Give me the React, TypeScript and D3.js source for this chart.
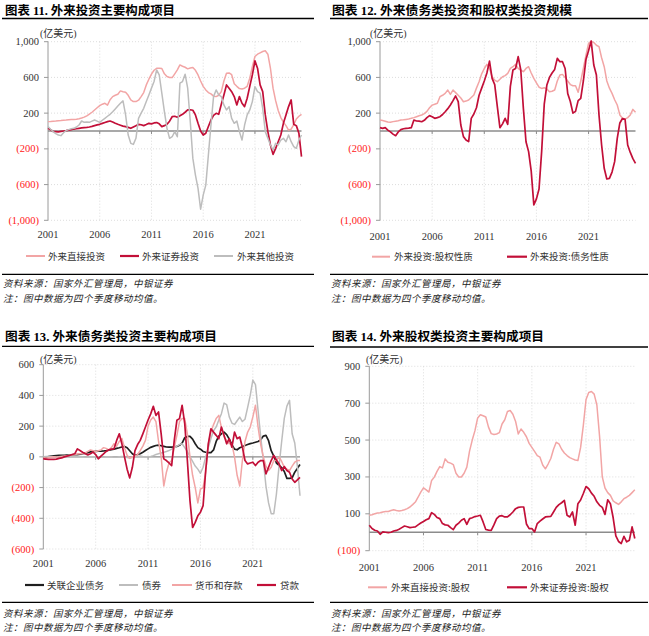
import React from 'react';
import * as d3 from 'd3';

// quarterly, 4-quarter moving averages, 2001Q1 onward (亿美元)
const YEAR_LABELS = ['2001', '2006', '2011', '2016', '2021'];
const YEAR_INDEX = [0, 20, 40, 60, 80];

const TICKS_11 = [1000, 600, 200, -200, -600, -1000];
const TICKS_12 = [1000, 600, 200, -200, -600, -1000];
const TICKS_13 = [600, 400, 200, 0, -200, -400, -600];
const TICKS_14 = [900, 700, 500, 300, 100, -100];

// 图表 11
const fdi11 = [
  105, 107, 110, 112, 115, 117, 120, 122, 125, 128,
  130, 132, 138, 145, 155, 170, 190, 210, 235, 260,
  284, 300, 310, 290, 350, 385, 400, 411, 449, 440,
  434, 400, 348, 330, 329, 345, 385, 430, 516, 580,
  636, 680, 703, 703, 700, 640, 610, 600, 598, 640,
  684, 740, 725, 714, 696, 705, 711, 680, 628, 560,
  500, 460, 430, 415, 390, 385, 400, 441, 560, 647,
  650, 630, 530, 500, 475, 470, 479, 500, 591, 720,
  834, 860, 875, 890, 898, 860, 700, 480, 340, 230,
  150, 100, 60, 11, 20, 70, 135, 165, 187,
];
const portfolio11 = [
  30, 15, -5, -7, -10, -5, 0, 4, 10, 15,
  22, 25, 30, 35, 38, 41, 45, 52, 60, 68,
  75, 85, 95, 105, 112, 100, 86, 75, 65, 55,
  49, 40, 30, 45, 60, 75, 70, 60, 72, 86,
  80, 90, 94, 80, 49, 60, 75, 110, 160, 165,
  153, 170, 187, 210, 236, 238, 232, 180, 86, 0,
  -45, -26, 50, 123, 175, 198, 187, 300, 404, 516,
  479, 440, 385, 292, 385, 310, 273, 367, 500, 628,
  785, 703, 516, 441, 180, -7, -157, -262, -194, -120,
  -45, 86, 180, 273, 348, 75, 60, -26, -288,
];
const other11 = [
  49, 20, -7, -30, -45, -52, -20, 4, 15, 25,
  30, 45, 67, 112, 97, 100, 97, 110, 123, 110,
  97, 120, 142, 165, 187, 215, 247, 280, 310, 337,
  180, -45, -138, -150, -82, 142, 200, 254, 330, 404,
  480, 554, 684, 628, 423, 217, 30, -82, -64, -7,
  -64, 535, 554, 636, 479, 105, -307, -494, -643, -875,
  -718, -606, -269, 67, 385, 460, 404, 385, 292, 236,
  273, 142, 86, 112, -7, -101, 67, 180, 236, 329,
  497, 441, 423, 254, -7, -82, -157, -213, -138, -157,
  -101, -82, -120, -45, -120, -176, -194, -101, -45,
];

// 图表 12
const equity12 = [
  123, 118, 110, 100, 97, 105, 110, 115, 123, 125,
  130, 135, 142, 150, 160, 170, 179, 195, 220, 260,
  290, 300, 310, 384, 400, 421, 459, 410, 459, 430,
  400, 370, 328, 335, 347, 375, 403, 480, 552, 640,
  700, 746, 700, 608, 570, 552, 580, 608, 620, 645,
  701, 720, 746, 701, 680, 664, 700, 720, 650, 589,
  540, 490, 477, 485, 470, 440, 445, 459, 560, 627,
  634, 600, 560, 520, 507, 507, 433, 560, 700, 850,
  980, 1007, 990, 960, 944, 820, 720, 560, 480, 421,
  350, 291, 180, 142, 134, 150, 180, 242, 209,
];
const debt12 = [
  37, 30, 37, 10, -10, -35, -52, -10, 15, 25,
  30, 32, 37, 123, 112, 110, 104, 120, 150, 172,
  160, 142, 150, 160, 185, 216, 250, 291, 340, 392,
  328, 67, -63, -100, -119, 142, 190, 260, 400, 480,
  560, 650, 783, 589, 520, 272, 37, 80, 142, 75,
  500, 683, 700, 832, 683, 250, -120, -231, -450, -828,
  -760, -650, -231, 300, 515, 600, 650, 690, 813, 776,
  776, 700, 420, 330, 200, 220, 340, 366, 560, 800,
  900, 1007, 739, 627, 179, -157, -418, -537, -530, -460,
  -343, -82, 90, 140, 130, -157, -240, -310, -362,
];

// 图表 13
const intercompany13 = [
  -7, -3, 2, 5, 7, 8, 9, 9, 10, 11,
  12, 13, 14, 15, 18, 20, 24, 28, 32, 35,
  36, 37, 37, 38, 40, 43, 46, 50, 55, 59,
  64, 68, 59, 40, 20, 9, 15, 20, 30, 41,
  52, 62, 68, 74, 76, 72, 68, 64, 63, 63,
  64, 68, 75, 90, 125, 133, 133, 115, 85, 60,
  50, 35, 30, 28, 28, 45, 100, 135, 150, 161,
  145, 115, 80, 50, 46, 59, 66, 74, 80, 86,
  90, 95, 100, 111, 135, 140, 105, 40, 5, -40,
  -55, -70, -95, -140, -140, -137, -100, -75, -50,
];
const bonds13 = [
  0, 2, 3, 2, 0, -2, 0, 2, 3, 2,
  0, 1, 2, 3, 2, 0, -2, -1, 0, 1,
  0, -2, -3, -2, 0, 1, 0, -3, -2, 0,
  2, 0, -5, -8, -5, 0, 3, 5, 2, 0,
  0, 3, 8, 15, 20, 25, 30, 35, 41, 50,
  59, 70, 80, 85, 60, 35, 0, -30, -60, -80,
  -107, -68, 0, 60, 120, 170, 195, 240, 281, 350,
  340, 260, 220, 211, 235, 259, 230, 245, 320, 400,
  500, 470, 300, 130, -24, -190, -300, -370, -370, -242,
  -60, 100, 250, 330, 368, 150, 90, -60, -253,
];
const deposits13 = [
  -5, -8, -5, -3, 0, -2, 0, 3, 5, 8,
  10, 12, 15, 18, 20, 22, 25, 35, 45, 40,
  35, 40, 45, 60, 55, 45, 60, 85, 70, 100,
  120, 60, 10, -10, 0, 5, 15, 40, 70, 107,
  200, 240, 259, 230, 100, 0, -190, -100, -40, -24,
  60, 140, 230, 249, 249, 150, 0, -120, -200, -300,
  -210, -200, -100, 85, 161, 210, 250, 270, 190, 130,
  107, 85, 85, 0, -120, -190, -24, 100, 160, 194,
  260, 336, 194, 80, 0, -60, -89, -68, -24, -24,
  0, -30, -68, -80, -89, -60, -35, -24, -24,
];
const loans13 = [
  -13, -15, -17, -17, -17, -15, -10, -7, 0, 5,
  9, 15, 20, 52, 41, 30, 20, 13, 20, 31,
  15, -13, 5, 20, 35, 46, 50, 52, 107, 150,
  85, 0, -80, -137, -68, 41, 80, 107, 150, 194,
  240, 280, 329, 270, 292, 150, -13, -24, -40, -57,
  107, 238, 249, 336, 216, -24, -286, -460, -427, -384,
  -360, -318, -89, 85, 183, 161, 140, 118, 194, 140,
  85, 118, 63, 161, 118, 129, 63, -24, -46, -40,
  -35, -57, -35, -24, -24, -111, -68, -24, 9, -20,
  -46, -89, -63, -89, -100, -144, -166, -150, -133,
];

// 图表 14
const fdiEquity14 = [
  92, 95, 100, 104, 106, 110, 112, 113, 118, 122,
  118, 115, 118, 122, 128, 137, 150, 164, 190, 218,
  241, 230, 218, 281, 299, 330, 356, 349, 398, 380,
  375, 367, 320, 300, 300, 320, 353, 440, 500, 551,
  620, 637, 632, 625, 570, 535, 530, 533, 540, 587,
  610, 655, 660, 640, 601, 533, 560, 542, 518, 482,
  460, 439, 416, 407, 365, 344, 370, 400, 450, 488,
  479, 450, 430, 416, 405, 398, 392, 389, 460, 580,
  720, 758, 763, 749, 690, 520, 300, 240, 215, 200,
  170, 160, 151, 165, 182, 190, 200, 215, 230,
];
const portfolioEquity14 = [
  38, 20, 11, 7, -11, 2, 0, -2, 0, 7,
  10, 16, 25, 34, 30, 25, 27, 29, 40, 50,
  58, 68, 74, 106, 97, 80, 74, 47, 40, 38,
  25, 14, 38, 50, 65, 74, 43, 74, 79, 85,
  88, 92, 56, 15, 12, 10, 40, 74, 88, 90,
  83, 83, 95, 110, 128, 135, 137, 137, 45, 20,
  20, 2, 47, 60, 72, 83, 85, 86, 110, 135,
  150, 160, 173, 92, 83, 110, 38, 155, 175, 210,
  248, 236, 212, 195, 165, 146, 135, 97, 176, 155,
  80, -20, -50, -61, -22, -52, -43, 29, -34,
];

const PINK = '#F2A5A5';
const CRIMSON = '#C20F38';
const GREY = '#BDBDBD';
const BLACK = '#1f1f1f';

const SERIF = "'Liberation Serif', 'Times New Roman', 'Noto Sans CJK SC', serif";
const CJK = "'Noto Sans CJK SC', 'Liberation Serif', sans-serif";

const SOURCE = '资料来源：国家外汇管理局，中银证券';
const NOTE = '注：图中数据为四个季度移动均值。';

interface Series { name: string; values: number[]; color: string; width: number; }
interface LegendSlot { x0: number; x1: number; tx: number; }

interface PanelConfig {
  title: string;
  titleX: number;
  titleY: number;
  titleLen: number;
  ruleX: [number, number];
  ruleTop: number;
  ruleBottom: number;
  x0: number;
  x1: number;
  yTop: number;
  yBottom: number;
  domain: [number, number];
  ticks: number[];
  yearY: number;
  unitX: number;
  unitY: number;
  legendY: number;
  legend: LegendSlot[];
  series: Series[];
  sourceX: number;
  sourceY: number;
  noteY: number;
}

const fmt = (v: number) => (v < 0 ? `(${d3.format(',')(-v)})` : d3.format(',')(v));

function Panel({ c }: { c: PanelConfig }) {
  const n = c.series[0].values.length;
  const x = d3.scaleLinear().domain([0, n - 1]).range([c.x0, c.x1]);
  const y = d3.scaleLinear().domain(c.domain).range([c.yBottom, c.yTop]);
  const line = d3.line<number>().x((_, i) => x(i)).y(d => y(d));
  const y0 = y(0);

  return (
    <g>
      {/* title + rule */}
      <text x={c.titleX} y={c.titleY} fontFamily={SERIF} fontWeight="bold" fontSize={12.5}
        fill="#000" textLength={c.titleLen} lengthAdjust="spacingAndGlyphs">{c.title}</text>
      <line x1={c.ruleX[0]} x2={c.ruleX[1]} y1={c.ruleTop} y2={c.ruleTop} stroke="#000" strokeWidth={1.3} />

      {/* unit */}
      <text x={c.unitX} y={c.unitY} fontFamily={SERIF} fontSize={10} fill="#333">(亿美元)</text>

      {/* grid */}
      <g stroke="#d4d4d4" strokeWidth={0.8} strokeDasharray="1,2">
        {c.ticks.filter(t => t !== 0).map(t => (
          <line key={'h' + t} x1={c.x0} x2={c.x1} y1={y(t)} y2={y(t)} />
        ))}
        {YEAR_INDEX.slice(1).map(i => (
          <line key={'v' + i} x1={x(i)} x2={x(i)} y1={c.yTop} y2={c.yBottom} />
        ))}
      </g>

      {/* y axis */}
      <line x1={c.x0} x2={c.x0} y1={c.yTop} y2={c.yBottom} stroke="#9a9a9a" strokeWidth={1} />
      {c.ticks.map(t => (
        <g key={'t' + t}>
          <line x1={c.x0 - 4} x2={c.x0} y1={y(t)} y2={y(t)} stroke="#9a9a9a" strokeWidth={1} />
          <text x={c.x0 - 9} y={y(t) + 3.5} textAnchor="end" fontFamily={SERIF} fontSize={10.5}
            fill={t < 0 ? '#FF2020' : '#333'}>{fmt(t)}</text>
        </g>
      ))}

      {/* zero axis */}
      <line x1={c.x0} x2={c.x1} y1={y0} y2={y0} stroke="#8c8c8c" strokeWidth={1.3} />
      {YEAR_INDEX.slice(1).map(i => (
        <line key={'xt' + i} x1={x(i)} x2={x(i)} y1={y0} y2={y0 + 3} stroke="#8c8c8c" strokeWidth={1} />
      ))}

      {/* series */}
      {c.series.map(s => (
        <path key={s.name} d={line(s.values) || ''} fill="none" stroke={s.color}
          strokeWidth={s.width} strokeLinejoin="round" />
      ))}

      {/* year labels */}
      {YEAR_INDEX.map((i, k) => (
        <text key={'y' + i} x={x(i)} y={c.yearY} textAnchor="middle" fontFamily={SERIF}
          fontSize={10.5} fill="#333">{YEAR_LABELS[k]}</text>
      ))}

      {/* legend */}
      {c.series.map((s, k) => {
        const l = c.legend[k];
        return (
          <g key={'lg' + s.name}>
            <line x1={l.x0} x2={l.x1} y1={c.legendY} y2={c.legendY} stroke={s.color}
              strokeWidth={s.width + 0.5} />
            <text x={l.tx} y={c.legendY + 3.5} fontFamily={CJK} fontSize={9.5} fill="#333">{s.name}</text>
          </g>
        );
      })}

      {/* footer */}
      <line x1={c.ruleX[0]} x2={c.ruleX[1]} y1={c.ruleBottom} y2={c.ruleBottom} stroke="#000" strokeWidth={1.3} />
      <text x={c.sourceX} y={c.sourceY} fontFamily={CJK} fontSize={9.5} fontStyle="italic" fill="#222"
        letterSpacing={0.5}>{SOURCE}</text>
      <text x={c.sourceX} y={c.noteY} fontFamily={CJK} fontSize={9.5} fontStyle="italic" fill="#222"
        letterSpacing={0.5}>{NOTE}</text>
    </g>
  );
}

const panels: PanelConfig[] = [
  {
    title: '图表 11. 外来投资主要构成项目', titleX: 5, titleY: 14.5, titleLen: 170,
    ruleX: [2, 314], ruleTop: 18.5, ruleBottom: 274.3,
    x0: 48, x1: 301.5, yTop: 41.7, yBottom: 220.3, domain: [-1000, 1000], ticks: TICKS_11,
    yearY: 238, unitX: 40, unitY: 37, legendY: 256,
    legend: [{ x0: 26, x1: 45, tx: 48 }, { x0: 120, x1: 139, tx: 142 }, { x0: 214, x1: 233, tx: 237 }],
    series: [
      { name: '外来直接投资', values: fdi11, color: PINK, width: 1.5 },
      { name: '外来证券投资', values: portfolio11, color: CRIMSON, width: 1.7 },
      { name: '外来其他投资', values: other11, color: GREY, width: 1.5 },
    ],
    sourceX: 3, sourceY: 287, noteY: 302,
  },
  {
    title: '图表 12. 外来债务类投资和股权类投资规模', titleX: 332, titleY: 14.5, titleLen: 240,
    ruleX: [330, 648], ruleTop: 18.5, ruleBottom: 274.3,
    x0: 380, x1: 635.5, yTop: 41.7, yBottom: 220.3, domain: [-1000, 1000], ticks: TICKS_12,
    yearY: 239.5, unitX: 370, unitY: 37, legendY: 256.7,
    legend: [{ x0: 372, x1: 390, tx: 394 }, { x0: 507, x1: 527, tx: 530 }],
    series: [
      { name: '外来投资:股权性质', values: equity12, color: PINK, width: 1.5 },
      { name: '外来投资:债务性质', values: debt12, color: CRIMSON, width: 1.7 },
    ],
    sourceX: 331, sourceY: 287, noteY: 302,
  },
  {
    title: '图表 13. 外来债务类投资主要构成项目', titleX: 5, titleY: 341, titleLen: 212,
    ruleX: [2, 314], ruleTop: 346.3, ruleBottom: 602.3,
    x0: 43.3, x1: 300, yTop: 364.7, yBottom: 549, domain: [-600, 600], ticks: TICKS_13,
    yearY: 566.5, unitX: 40, unitY: 362.5, legendY: 585,
    legend: [{ x0: 25, x1: 44, tx: 47 }, { x0: 119, x1: 138, tx: 142 },
      { x0: 172, x1: 192, tx: 195 }, { x0: 257, x1: 276, tx: 280 }],
    series: [
      { name: '关联企业债务', values: intercompany13, color: BLACK, width: 1.7 },
      { name: '债券', values: bonds13, color: GREY, width: 1.5 },
      { name: '货币和存款', values: deposits13, color: PINK, width: 1.5 },
      { name: '贷款', values: loans13, color: CRIMSON, width: 1.7 },
    ],
    sourceX: 3, sourceY: 616.5, noteY: 630.5,
  },
  {
    title: '图表 14. 外来股权类投资主要构成项目', titleX: 332, titleY: 341, titleLen: 212,
    ruleX: [330, 648], ruleTop: 347, ruleBottom: 602.3,
    x0: 369.3, x1: 634.8, yTop: 366.3, yBottom: 550.7, domain: [-100, 900], ticks: TICKS_14,
    yearY: 570.5, unitX: 366, unitY: 362.5, legendY: 587.3,
    legend: [{ x0: 368, x1: 387, tx: 391 }, { x0: 507, x1: 527, tx: 530 }],
    series: [
      { name: '外来直接投资:股权', values: fdiEquity14, color: PINK, width: 1.5 },
      { name: '外来证券投资:股权', values: portfolioEquity14, color: CRIMSON, width: 1.7 },
    ],
    sourceX: 331, sourceY: 616.5, noteY: 630.5,
  },
];

export default function App() {
  return (
    <svg width={649} height={636} viewBox="0 0 649 636"
      style={{ position: 'absolute', left: 0, top: 0, background: '#fff' }}>
      {panels.map(p => <Panel key={p.title} c={p} />)}
    </svg>
  );
}
